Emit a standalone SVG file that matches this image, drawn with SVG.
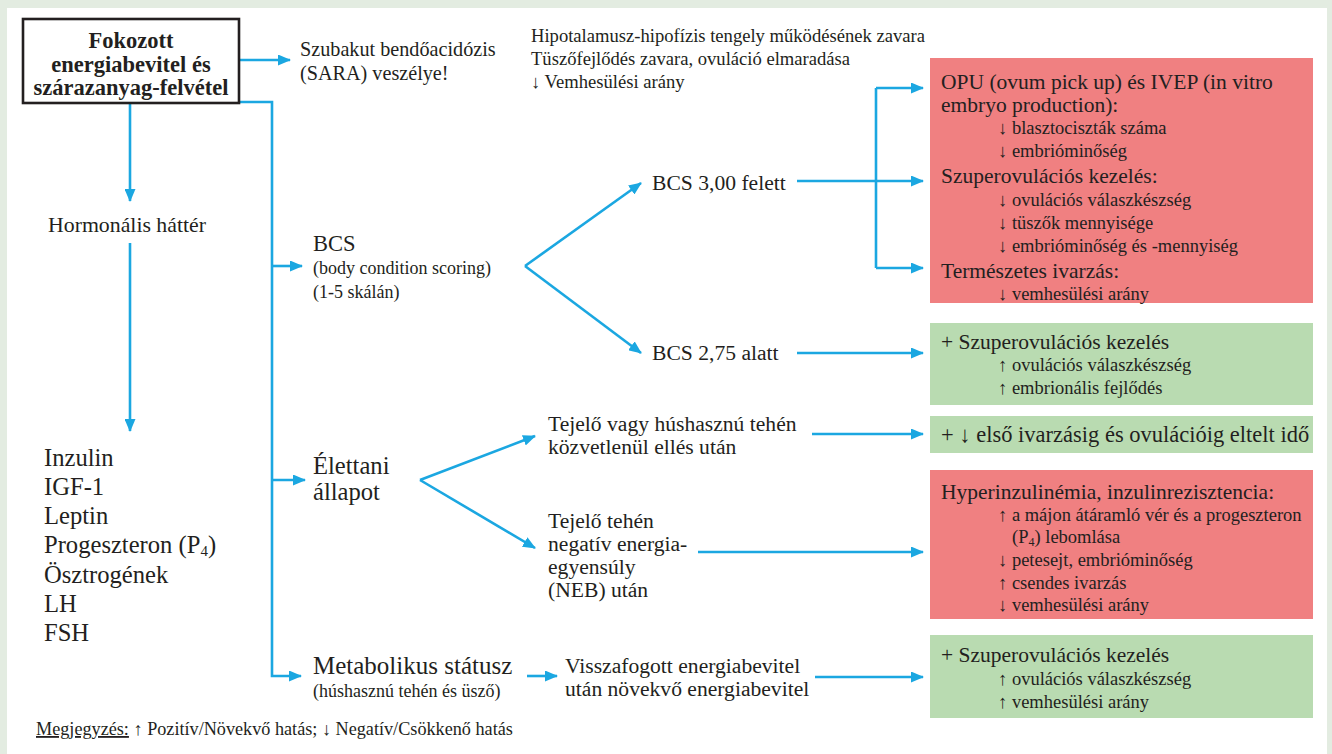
<svg xmlns="http://www.w3.org/2000/svg" width="1332" height="754" viewBox="0 0 1332 754">
<defs>
<marker id="ah" markerWidth="13" markerHeight="11" refX="12" refY="5.5" orient="auto" markerUnits="userSpaceOnUse"><path d="M0,0 L13,5.5 L0,11 z" fill="#1ba7e1"/></marker>
<style>
text{font-family:"Liberation Serif","Times New Roman",serif;fill:#231f20}
.c{fill:none;stroke:#1ba7e1;stroke-width:2.6;marker-end:url(#ah)}
.cn{fill:none;stroke:#1ba7e1;stroke-width:2.6}
.red{fill:#f08081}
.grn{fill:#b9dbb1}
.h{font-size:21.5px}
.s{font-size:18.5px}
.m{font-size:21.6px}
.l{font-size:24.6px}
.sm{font-size:18px}
.t{font-size:18.6px}
.b{font-size:22.5px;font-weight:bold}
</style>
</defs>
<rect x="0" y="0" width="1332" height="754" fill="#e3ece1"/>
<rect x="7" y="8" width="1320" height="746" fill="#ffffff"/>

<g id="connectors">
<path class="c" d="M239,60 H290"/>
<path class="c" d="M130,103 V201"/>
<path class="c" d="M130,243 V431"/>
<path class="c" d="M239,102 H272 V676 H301"/>
<path class="c" d="M272,266 H302"/>
<path class="c" d="M272,480 H305"/>
<path class="c" d="M525,266 L641,183"/>
<path class="c" d="M525,266 L641,353"/>
<path class="c" d="M797,181 H923"/>
<path class="c" d="M876,88 H923"/>
<path class="cn" d="M876,88 V268"/>
<path class="c" d="M876,268 H923"/>
<path class="c" d="M797,353 H923"/>
<path class="c" d="M420,480 L535,436"/>
<path class="c" d="M420,480 L535,548"/>
<path class="c" d="M812,434 H923"/>
<path class="c" d="M698,552 H923"/>
<path class="c" d="M527,676 H557"/>
<path class="c" d="M815,677 H923"/>
</g>

<g id="node-main">
<rect x="23" y="19" width="216" height="84" fill="#ffffff" stroke="#231f20" stroke-width="2.6"/>
<text class="b" x="131" y="48" text-anchor="middle">Fokozott</text>
<text class="b" x="131" y="72" text-anchor="middle">energiabevitel és</text>
<text class="b" x="131" y="95" text-anchor="middle">szárazanyag-felvétel</text>
</g>

<g id="node-sara">
<text x="300" y="56" font-size="20.2">Szubakut bendőacidózis</text>
<text x="300" y="80" font-size="20.2">(SARA) veszélye!</text>
</g>

<g id="node-sara-effects">
<text class="t" x="531" y="42">Hipotalamusz-hipofízis tengely működésének zavara</text>
<text class="t" x="531" y="65">Tüszőfejlődés zavara, ovuláció elmaradása</text>
<text class="t" x="531" y="88">↓ Vemhesülési arány</text>
</g>

<g id="node-hormonal">
<text x="48" y="232" font-size="21.8">Hormonális háttér</text>
</g>

<g id="node-hormones">
<text class="l" x="44" y="466">Inzulin</text>
<text class="l" x="44" y="495">IGF-1</text>
<text class="l" x="44" y="524">Leptin</text>
<text class="l" x="44" y="553">Progeszteron (P<tspan font-size="15" dy="3">4</tspan><tspan dy="-3">)</tspan></text>
<text class="l" x="44" y="583">Ösztrogének</text>
<text class="l" x="44" y="612">LH</text>
<text class="l" x="44" y="641">FSH</text>
</g>

<g id="node-bcs">
<text x="313" y="251" font-size="22.5">BCS</text>
<text class="sm" x="313" y="274">(body condition scoring)</text>
<text class="sm" x="313" y="298">(1-5 skálán)</text>
</g>

<g id="node-bcs-high">
<text class="m" x="652" y="190">BCS 3,00 felett</text>
</g>
<g id="node-bcs-low">
<text class="m" x="652" y="360">BCS 2,75 alatt</text>
</g>

<g id="node-physio">
<text class="l" x="313" y="474">Élettani</text>
<text class="l" x="313" y="500">állapot</text>
</g>

<g id="node-calving">
<text class="m" x="548" y="431">Tejelő vagy húshasznú tehén</text>
<text class="m" x="548" y="454">közvetlenül ellés után</text>
</g>

<g id="node-neb">
<text class="m" x="548" y="528">Tejelő tehén</text>
<text class="m" x="548" y="551">negatív energia-</text>
<text class="m" x="548" y="574">egyensúly</text>
<text class="m" x="548" y="597">(NEB) után</text>
</g>

<g id="node-metabolic">
<text x="313" y="674" font-size="25">Metabolikus státusz</text>
<text class="sm" x="313" y="697">(húshasznú tehén és üsző)</text>
</g>

<g id="node-restricted">
<text class="m" x="565" y="673">Visszafogott energiabevitel</text>
<text class="m" x="565" y="696">után növekvő energiabevitel</text>
</g>

<g id="node-red1">
<rect class="red" x="930" y="58" width="383" height="245"/>
<text class="h" x="941" y="89">OPU (ovum pick up) és IVEP (in vitro</text>
<text class="h" x="941" y="112">embryo production):</text>
<text class="s" x="998" y="134">↓ blasztociszták száma</text>
<text class="s" x="998" y="157">↓ embrióminőség</text>
<text class="h" x="941" y="183">Szuperovulációs kezelés:</text>
<text class="s" x="998" y="206">↓ ovulációs válaszkészség</text>
<text class="s" x="998" y="229">↓ tüszők mennyisége</text>
<text class="s" x="998" y="252">↓ embrióminőség és -mennyiség</text>
<text class="h" x="941" y="278">Természetes ivarzás:</text>
<text class="s" x="998" y="300">↓ vemhesülési arány</text>
</g>

<g id="node-green1">
<rect class="grn" x="930" y="323" width="383" height="82"/>
<text class="h" x="941" y="349">+ Szuperovulációs kezelés</text>
<text class="s" x="998" y="371">↑ ovulációs válaszkészség</text>
<text class="s" x="998" y="394">↑ embrionális fejlődés</text>
</g>

<g id="node-green2">
<rect class="grn" x="930" y="416" width="383" height="37"/>
<text x="941" y="442" font-size="22.5">+ ↓ első ivarzásig és ovulációig eltelt idő</text>
</g>

<g id="node-red2">
<rect class="red" x="930" y="470" width="383" height="149"/>
<text class="h" x="941" y="499">Hyperinzulinémia, inzulinrezisztencia:</text>
<text class="s" x="998" y="521">↑ a májon átáramló vér és a progeszteron</text>
<text class="s" x="1012" y="543">(P<tspan font-size="12" dy="2.5">4</tspan><tspan dy="-2.5">) lebomlása</tspan></text>
<text class="s" x="998" y="566">↓ petesejt, embrióminőség</text>
<text class="s" x="998" y="589">↑ csendes ivarzás</text>
<text class="s" x="998" y="611">↓ vemhesülési arány</text>
</g>

<g id="node-green3">
<rect class="grn" x="930" y="635" width="383" height="83"/>
<text class="h" x="941" y="662">+ Szuperovulációs kezelés</text>
<text class="s" x="998" y="685">↑ ovulációs válaszkészség</text>
<text class="s" x="998" y="708">↑ vemhesülési arány</text>
</g>

<g id="note">
<text x="36" y="735" font-size="18.2"><tspan text-decoration="underline">Megjegyzés:</tspan> ↑ Pozitív/Növekvő hatás; ↓ Negatív/Csökkenő hatás</text>
</g>
</svg>
